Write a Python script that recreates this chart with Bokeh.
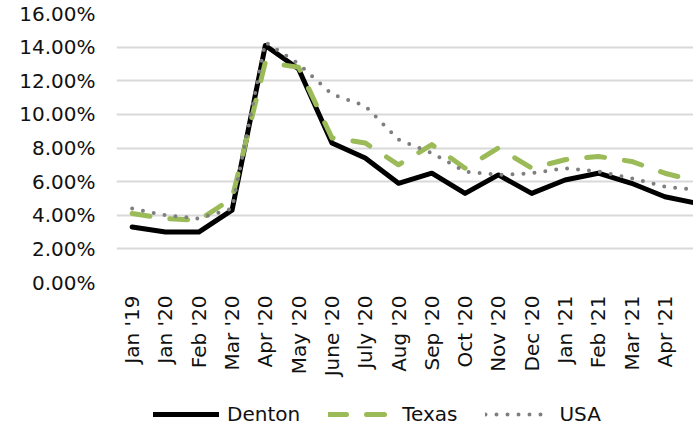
from math import pi
from bokeh.plotting import figure
from bokeh.layouts import column
from bokeh.models import Range1d, FixedTicker, PrintfTickFormatter, Legend, LegendItem
from bokeh.embed import file_html
from bokeh.resources import INLINE

categories = ["Jan '19", "Jan '20", "Feb '20", "Mar '20", "Apr '20", "May '20",
              "June '20", "July '20", "Aug '20", "Sep '20", "Oct '20", "Nov '20",
              "Dec '20", "Jan '21", "Feb '21", "Mar '21", "Apr '21", "May '21"]
denton = [3.3, 3.0, 3.0, 4.3, 14.1, 12.7, 8.3, 7.4, 5.9, 6.5, 5.3, 6.4, 5.3, 6.1, 6.5, 5.9, 5.1, 4.7]
texas = [4.1, 3.8, 3.7, 5.0, 13.1, 12.8, 8.6, 8.3, 7.0, 8.2, 6.8, 8.0, 6.8, 7.3, 7.5, 7.2, 6.5, 6.0]
usa = [4.4, 4.0, 3.8, 4.4, 14.3, 13.0, 11.2, 10.5, 8.5, 7.7, 6.6, 6.4, 6.5, 6.8, 6.6, 6.2, 5.7, 5.5]
y_ticks = [0, 2, 4, 6, 8, 10, 12, 14, 16]
series_names = ["Denton", "Texas", "USA"]

FONT = "DejaVu Sans"
TEXT = "#111111"
xs = list(range(len(categories)))

styles = [dict(line_color="black", line_width=5, line_join="round", line_cap="round"),
          dict(line_color="#9BBB59", line_width=5, line_dash="18 20", line_join="round", line_cap="round"),
          dict(line_color="#7F7F7F", line_width=4, line_dash="0 11", line_join="round", line_cap="round")]
values = [denton, texas, usa]

# ---- main chart ----
p = figure(width=693, height=392, output_backend="svg", toolbar_location=None,
           x_range=Range1d(-0.47, 16.86), y_range=Range1d(0, 16),
           min_border_left=116, min_border_right=0, min_border_top=13, min_border_bottom=110)
p.outline_line_color = None
p.background_fill_color = "white"
p.border_fill_color = "white"

p.yaxis.ticker = FixedTicker(ticks=y_ticks)
p.yaxis.formatter = PrintfTickFormatter(format="%.2f%%")
p.yaxis.axis_line_color = None
p.yaxis.major_tick_line_color = None
p.yaxis.minor_tick_line_color = None
p.yaxis.major_tick_out = 0
p.yaxis.major_tick_in = 0
p.yaxis.major_label_standoff = 21
p.yaxis.major_label_text_font = FONT
p.yaxis.major_label_text_font_size = "20px"
p.yaxis.major_label_text_color = TEXT

p.xaxis.ticker = FixedTicker(ticks=xs)
p.xaxis.major_label_overrides = {i: c for i, c in enumerate(categories)}
p.xaxis.major_label_orientation = pi / 2
p.xaxis.axis_line_color = None
p.xaxis.major_tick_line_color = None
p.xaxis.minor_tick_line_color = None
p.xaxis.major_tick_out = 0
p.xaxis.major_tick_in = 0
p.xaxis.major_label_standoff = 13
p.xaxis.major_label_text_font = FONT
p.xaxis.major_label_text_font_size = "20px"
p.xaxis.major_label_text_color = TEXT

p.xgrid.visible = False
p.ygrid.ticker = FixedTicker(ticks=y_ticks)
p.ygrid.grid_line_color = "#d9d9d9"
p.ygrid.grid_line_width = 2

for vals, st in zip(values, styles):
    p.line(xs, vals, **st)

# ---- legend strip (series drawn off-range, only their legend glyphs show) ----
lg = figure(width=693, height=34, output_backend="svg", toolbar_location=None,
            x_range=Range1d(-0.47, 16.86), y_range=Range1d(100, 110),
            min_border_left=0, min_border_right=0, min_border_top=0, min_border_bottom=0,
            x_axis_type=None, y_axis_type=None)
lg.outline_line_color = None
lg.grid.visible = False
lg.background_fill_color = "white"
lg.border_fill_color = "white"
items = []
for name, vals, st in zip(series_names, values, styles):
    r = lg.line(xs, vals, **st)
    items.append(LegendItem(label=name, renderers=[r]))

legend = Legend(items=items, orientation="horizontal", location=(37, 0),
                label_text_font=FONT, label_text_font_size="20px", label_text_color=TEXT,
                glyph_width=66, glyph_height=20, label_standoff=8, spacing=28,
                padding=0, margin=0, border_line_color=None, background_fill_alpha=0)
lg.add_layout(legend)

page = column(p, lg, spacing=0)
open("out.html", "w").write(file_html(page, INLINE))
